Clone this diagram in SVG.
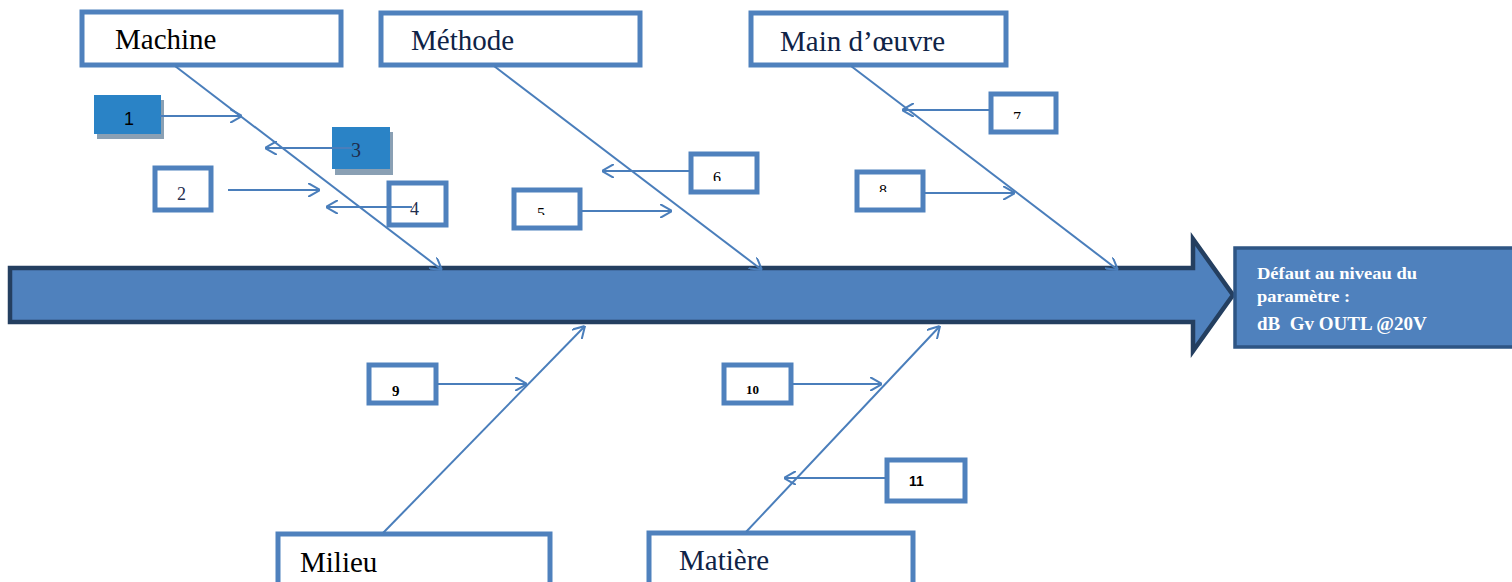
<svg xmlns="http://www.w3.org/2000/svg" width="1512" height="582" viewBox="0 0 1512 582">
<style>
.box{fill:#fff;stroke:#4f81bd;stroke-width:5}
.cat{font-size:29px}
.num{font-size:18px;fill:#1f2d4d}
.cn{font-size:16px;fill:#000}
.bn{font-weight:bold;fill:#000}
.ar{stroke:#4a7ebb;stroke-width:2;fill:none;marker-end:url(#v)}
.fil{fill:#2a83c6}
.sh{fill:#8aa0b4}
</style>
<defs>
<marker id="v" viewBox="0 0 12 14" refX="12" refY="7" markerWidth="12" markerHeight="14" markerUnits="userSpaceOnUse" orient="auto">
<path d="M0,0 L12,7 L0,14" fill="none" stroke="#4a7ebb" stroke-width="2"/>
</marker>
<clipPath id="c5"><rect x="516" y="192" width="62" height="23"/></clipPath>
<clipPath id="c6"><rect x="693" y="156" width="62" height="25"/></clipPath>
<clipPath id="c7"><rect x="993" y="96" width="61" height="23"/></clipPath>
<clipPath id="c8"><rect x="859" y="174" width="62" height="18"/></clipPath>
</defs>

<g id="spine">
<path d="M10,268 L1193,268 L1193,239 L1233,295 L1193,351 L1193,322 L10,322 Z" fill="#4f81bd" stroke="#243f60" stroke-width="4.5"/>
</g>

<g id="result" font-family="'Liberation Serif', serif" font-weight="bold" fill="#fff">
<rect x="1235" y="248" width="290" height="99" fill="#4f81bd" stroke="#2e5584" stroke-width="3.5"/>
<text x="1257" y="279" font-size="16" textLength="160" lengthAdjust="spacingAndGlyphs">Défaut au niveau du</text>
<text x="1257" y="302" font-size="16" textLength="93" lengthAdjust="spacingAndGlyphs">paramètre :</text>
<text x="1257" y="330" font-size="19" xml:space="preserve">dB  Gv OUTL @20V</text>
</g>

<g font-family="'Liberation Serif', serif">
<g id="machine"><rect class="box" x="82" y="12" width="259" height="53"/><text class="cat" x="115" y="49" font-size="26" fill="#000">Machine</text></g>
<g id="methode"><rect class="box" x="381" y="13" width="259" height="52"/><text class="cat" x="411" y="50" fill="#0f2346">Méthode</text></g>
<g id="main-oeuvre"><rect class="box" x="751" y="13" width="255" height="52"/><text class="cat" x="780" y="51" fill="#0f2346">Main d’œuvre</text></g>
<g id="milieu"><rect class="box" x="278" y="534" width="272" height="60"/><text class="cat" x="300" y="572" fill="#000">Milieu</text></g>
<g id="matiere"><rect class="box" x="649" y="533" width="264" height="60"/><text class="cat" x="679" y="570" fill="#0f2346">Matière</text></g>

<g id="n1"><rect class="sh" x="97" y="100" width="67" height="39"/><rect class="fil" x="94" y="95" width="67" height="39"/><text x="124" y="125" font-family="'Liberation Sans', sans-serif" font-size="18" fill="#000">1</text></g>
<g id="n3"><rect class="sh" x="335" y="132" width="58" height="43"/><rect class="fil" x="332" y="127" width="58" height="42"/><text x="351" y="157" font-size="20" fill="#1f2d4d">3</text></g>
<g id="n2"><rect class="box" x="155" y="168" width="56" height="42"/><text class="num" x="177" y="200">2</text></g>
<g id="n4"><rect class="box" x="389" y="183" width="57" height="42"/><text class="num" x="410" y="215" font-size="19">4</text></g>
<g id="n5"><rect class="box" x="514" y="190" width="66" height="38"/><text class="cn" x="537" y="219" clip-path="url(#c5)">5</text></g>
<g id="n6"><rect class="box" x="691" y="154" width="66" height="38"/><text class="cn" x="713" y="183" clip-path="url(#c6)">6</text></g>
<g id="n7"><rect class="box" x="991" y="94" width="65" height="38"/><text class="cn" x="1013" y="123" clip-path="url(#c7)">7</text></g>
<g id="n8"><rect class="box" x="857" y="172" width="66" height="38"/><text class="cn" x="879" y="196" clip-path="url(#c8)">8</text></g>
<g id="n9"><rect class="box" x="369" y="365" width="67" height="38"/><text class="bn" x="392" y="396" font-size="15">9</text></g>
<g id="n10"><rect class="box" x="724" y="365" width="67" height="38"/><text class="bn" x="746" y="394" font-size="13">10</text></g>
<g id="n11"><rect class="box" x="887" y="460" width="78" height="41"/><text x="909" y="486" font-family="'Liberation Sans', sans-serif" font-size="14" font-weight="bold" fill="#000">11</text></g>
</g>

<g id="connectors">
<path class="ar" d="M175,66 L442,270"/>
<path class="ar" d="M494,66 L762,270"/>
<path class="ar" d="M851,66 L1118,270"/>
<path class="ar" d="M383,533 L585,326"/>
<path class="ar" d="M746,532 L940,326"/>
<path class="ar" d="M160,116 L242,116"/>
<path class="ar" d="M352,148 L265,148"/>
<path class="ar" d="M228,190 L320,190"/>
<path class="ar" d="M412,207 L326,207"/>
<path class="ar" d="M581,211 L672,211"/>
<path class="ar" d="M690,171 L602,171"/>
<path class="ar" d="M990,110 L902,110"/>
<path class="ar" d="M924,193 L1015,193"/>
<path class="ar" d="M437,384 L527,384"/>
<path class="ar" d="M792,384 L882,384"/>
<path class="ar" d="M886,478 L784,478"/>
</g>
</svg>
